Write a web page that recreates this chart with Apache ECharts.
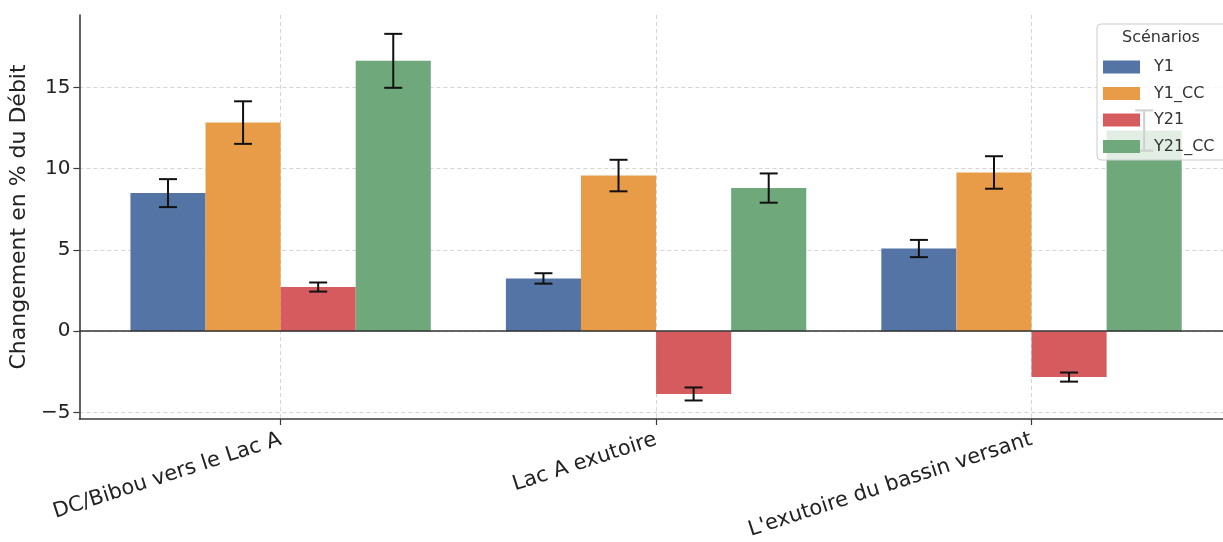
<!DOCTYPE html>
<html>
<head>
<meta charset="utf-8">
<script src="https://cdn.jsdelivr.net/npm/echarts@6/dist/echarts.min.js"></script>
<style>
  html, body { margin: 0; padding: 0; background: #fff; }
  #chart { width: 1223px; height: 542px; }
</style>
</head>
<body>
<div id="chart"></div>
<script>
// categories and scenarios
const categories = ['DC/Bibou vers le Lac A', 'Lac A exutoire', "L'exutoire du bassin versant"]
const scenarios = ['Y1', 'Y1_CC', 'Y21', 'Y21_CC']

// mean change (%) per scenario, one value per category
const y1 = [8.5, 3.25, 5.09]
const y1Cc = [12.84, 9.58, 9.77]
const y21 = [2.72, -3.86, -2.82]
const y21Cc = [16.64, 8.81, 12.35]

// error bar half-lengths
const y1Err = [0.86, 0.32, 0.53]
const y1CcErr = [1.31, 0.97, 1.0]
const y21Err = [0.28, 0.40, 0.28]
const y21CcErr = [1.66, 0.90, 1.24]

const yTicks = [-5, 0, 5, 10, 15]
const xTicks = [0, 1, 2]

const values = [y1, y1Cc, y21, y21Cc]
const errors = [y1Err, y1CcErr, y21Err, y21CcErr]
const colors = ['#5474a5', '#e89c48', '#d65b5e', '#6ea87b']
const font = 'DejaVu Sans'
const barW = 0.2

let chart = echarts.init(document.getElementById('chart'))

function barRender(si) {
  return function (params, api) {
    const c = api.value(0)
    const v = api.value(1)
    const x0 = c - 0.4 + si * barW
    const p0 = api.coord([x0, Math.max(v, 0)])
    const p1 = api.coord([x0 + barW, Math.min(v, 0)])
    return {
      type: 'rect',
      shape: { x: p0[0], y: p0[1], width: p1[0] - p0[0], height: p1[1] - p0[1] },
      style: { fill: colors[si] }
    }
  }
}

function errRender(params, api) {
  const c = api.value(0)
  const si = api.value(1)
  const v = api.value(2)
  const e = api.value(3)
  const xc = c - 0.4 + si * barW + barW / 2
  const top = api.coord([xc, v + e])
  const bot = api.coord([xc, v - e])
  const cap = 9
  const st = { stroke: '#111', lineWidth: 2 }
  return {
    type: 'group',
    children: [
      { type: 'line', shape: { x1: top[0], y1: top[1], x2: bot[0], y2: bot[1] }, style: st },
      { type: 'line', shape: { x1: top[0] - cap, y1: top[1], x2: top[0] + cap, y2: top[1] }, style: st },
      { type: 'line', shape: { x1: bot[0] - cap, y1: bot[1], x2: bot[0] + cap, y2: bot[1] }, style: st }
    ]
  }
}

const barSeries = scenarios.map((name, si) => {
  return {
    name: name,
    type: 'custom',
    renderItem: barRender(si),
    itemStyle: { color: colors[si] },
    encode: { x: 0, y: 1 },
    data: values[si].map((v, ci) => [ci, v]),
    z: 2
  }
})

const errData = []
scenarios.forEach((name, si) => {
  values[si].forEach((v, ci) => errData.push([ci, si, v, errors[si][ci]]))
})

let option = {
  animation: false,
  textStyle: { fontFamily: font },
  grid: { left: 74, right: 0, top: 15, bottom: 123 },
  xAxis: {
    type: 'value',
    min: -0.536,
    max: 2.51,
    axisLine: { onZero: false, lineStyle: { color: '#3a3a3a', width: 1.6 } },
    axisTick: { show: true, customValues: xTicks, length: 6, lineStyle: { color: '#3a3a3a', width: 1.2 } },
    axisLabel: {
      customValues: xTicks,
      formatter: v => categories[Math.round(v)],
      rotate: 18,
      margin: 20,
      color: '#222',
      fontSize: 21,
      fontFamily: font
    },
    splitLine: { show: true, lineStyle: { color: '#d4d4d4', type: [4, 3], width: 1 } }
  },
  yAxis: {
    type: 'value',
    min: -5.4,
    max: 19.46,
    name: 'Changement en % du Débit',
    nameLocation: 'middle',
    nameGap: 39,
    nameTextStyle: { fontSize: 22, color: '#222', fontFamily: font },
    axisLine: { show: true, onZero: false, lineStyle: { color: '#3a3a3a', width: 1.6 } },
    axisTick: { show: true, customValues: yTicks, length: 6, lineStyle: { color: '#3a3a3a', width: 1.2 } },
    axisLabel: {
      customValues: yTicks,
      formatter: v => v < 0 ? '\u2212' + Math.abs(v) : String(v),
      margin: 9,
      color: '#222',
      fontSize: 20,
      fontFamily: font
    },
    splitLine: { show: true, lineStyle: { color: '#d4d4d4', type: [4, 3], width: 1 } }
  },
  legend: {
    orient: 'vertical',
    left: 1103,
    top: 59,
    z: 20,
    icon: 'rect',
    itemWidth: 37,
    itemHeight: 13,
    itemGap: 10.5,
    padding: 0,
    data: scenarios,
    textStyle: { fontSize: 16, color: '#333', fontFamily: font, padding: [0, 0, 0, 9] }
  },
  graphic: [
    {
      type: 'rect',
      z: 15,
      shape: { x: 1097, y: 24, width: 150, height: 136, r: 4 },
      style: { fill: 'rgba(255,255,255,0.8)', stroke: '#cccccc', lineWidth: 1 }
    },
    {
      type: 'text',
      z: 16,
      x: 1161,
      y: 38,
      style: { text: 'Scénarios', fontSize: 16, fill: '#333', fontFamily: font, align: 'center', verticalAlign: 'middle' }
    }
  ],
  series: [
    ...barSeries,
    {
      name: 'errors',
      type: 'custom',
      renderItem: errRender,
      encode: { x: 0, y: 2 },
      data: errData,
      z: 4,
      silent: true,
      markLine: {
        silent: true,
        symbol: 'none',
        label: { show: false },
        lineStyle: { color: '#333', type: 'solid', width: 1.6 },
        data: [{ yAxis: 0 }]
      }
    }
  ]
}

chart.setOption(option)
</script>
</body>
</html>
